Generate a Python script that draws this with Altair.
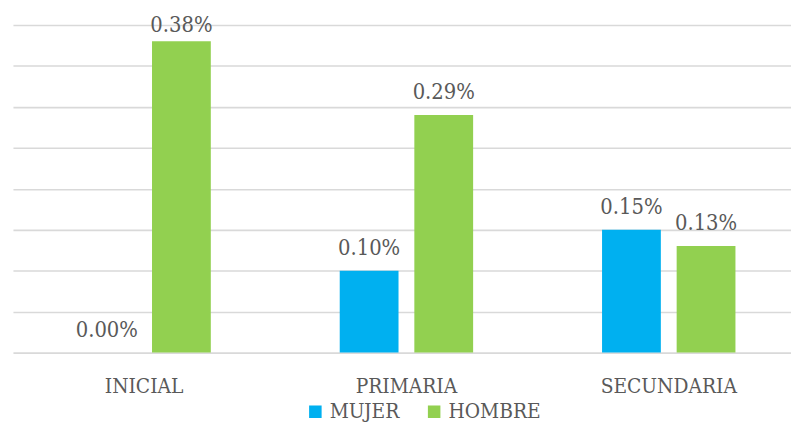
import altair as alt
import pandas as pd

categories = ["INICIAL", "PRIMARIA", "SECUNDARIA"]
series = ["MUJER", "HOMBRE"]
mujer = [0.00, 0.10, 0.15]
hombre = [0.38, 0.29, 0.13]
colors = ["#00B0F0", "#92D050"]
y_ticks = [0, 0.05, 0.10, 0.15, 0.20, 0.25, 0.30, 0.35, 0.40]

rows = []
for i, c in enumerate(categories):
    rows.append({"nivel": c, "sexo": "MUJER", "valor": mujer[i]})
    rows.append({"nivel": c, "sexo": "HOMBRE", "valor": hombre[i]})
df = pd.DataFrame(rows)

FONT = "DejaVu Serif Condensed"
GREY = "#595959"

x = alt.X(
    "nivel:N",
    sort=categories,
    scale=alt.Scale(paddingInner=0, paddingOuter=0),
    axis=alt.Axis(
        title=None, domain=False, ticks=False, labelAngle=0,
        labelFont=FONT, labelFontSize=21, labelColor=GREY,
        labelPadding=34, labelBaseline="middle",
    ),
)
xoff = alt.XOffset(
    "sexo:N", sort=series,
    scale=alt.Scale(paddingInner=0.212, paddingOuter=0.864),
)
yscale = alt.Scale(domain=[0, 0.40], nice=False)

bars = alt.Chart(df).mark_bar().encode(
    x=x,
    xOffset=xoff,
    y=alt.Y(
        "valor:Q", scale=yscale,
        axis=alt.Axis(
            title=None, labels=False, ticks=False, domain=False,
            values=y_ticks, grid=True, gridColor="#D9D9D9", gridWidth=1.6,
        ),
    ),
    color=alt.Color(
        "sexo:N",
        scale=alt.Scale(domain=series, range=colors),
        legend=alt.Legend(
            title=None, orient="none", legendX=295, legendY=380,
            direction="horizontal", symbolType="square", symbolSize=160,
            symbolStrokeWidth=0, labelFont=FONT, labelFontSize=21,
            labelColor=GREY, labelOffset=4, columnPadding=24, padding=0,
        ),
    ),
)

text = alt.Chart(df).transform_calculate(
    label="format(datum.valor, '.2f') + '%'",
    ly="min(datum.valor, 0.372)",
).mark_text(
    font=FONT, fontSize=22, color=GREY, baseline="alphabetic", dy=-16,
).encode(
    x=x,
    xOffset=xoff,
    y=alt.Y("ly:Q", scale=yscale),
    text="label:N",
)

chart = alt.layer(bars, text).properties(
    width=795, height=331,
    padding={"left": 5, "top": 15, "right": -9, "bottom": 70},
    autosize="none",
).configure_view(stroke=None)

chart.save("out.html", embed_options={"renderer": "svg", "actions": False})
